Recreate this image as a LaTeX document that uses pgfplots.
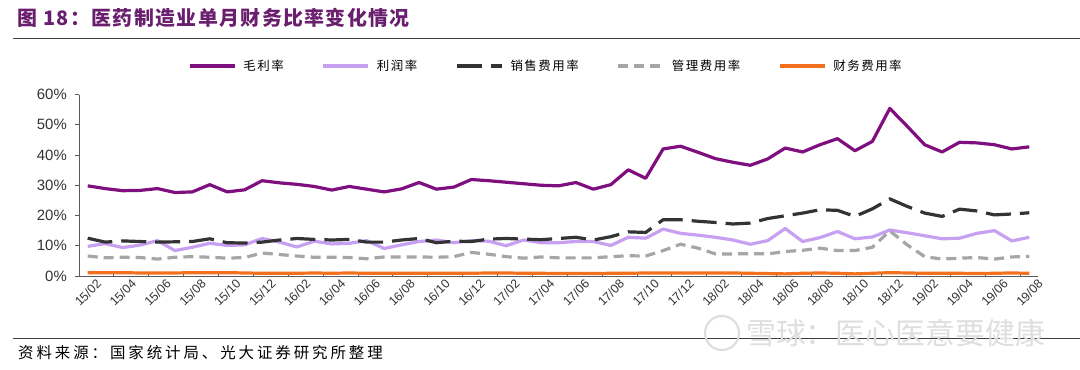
\documentclass[border=0pt]{standalone}
\usepackage{fontspec}
\setmainfont{Liberation Sans}
\newfontfamily\cjk{Noto Sans CJK SC}
\newfontfamily\cjktitle{Noto Sans CJK SC}[LetterSpace=7]
\newfontfamily\cjksrc{Noto Sans CJK SC}[LetterSpace=19]
\newfontfamily\cjkleg{Noto Sans CJK SC}[LetterSpace=12]
\usepackage{pgfplots}
\usepackage{pgfplotstable}
\pgfplotsset{compat=1.18}
\definecolor{gmc}{HTML}{7F0F7E}
\definecolor{pmc}{HTML}{C7A0F2}
\definecolor{sec}{HTML}{333333}
\definecolor{adc}{HTML}{A6A6A6}
\definecolor{fic}{HTML}{F2701E}
\definecolor{titlec}{HTML}{6A1F6E}
\definecolor{axc}{HTML}{595959}
\pgfplotstableread{
i gm pm se ad fi
0 29.8 9.8 12.5 6.6 1.1
1 28.9 10.7 11.2 6.0 1.1
2 28.2 9.4 11.6 6.2 1.1
3 28.3 10.2 11.4 6.1 1.0
4 28.9 11.7 11.2 5.6 1.0
5 27.6 8.4 11.3 6.2 1.0
6 27.8 9.5 11.4 6.4 1.1
7 30.2 10.8 12.3 6.2 1.1
8 27.8 10.1 11.0 5.9 1.1
9 28.5 10.3 10.9 6.1 1.0
10 31.5 12.4 11.2 7.6 0.9
11 30.8 11.2 11.9 7.1 0.9
12 30.3 9.6 12.4 6.6 0.9
13 29.6 11.5 12.1 6.2 1.0
14 28.4 10.6 11.9 6.2 0.9
15 29.6 10.8 12.1 6.1 1.0
16 28.7 11.7 11.2 5.7 0.9
17 27.8 9.1 11.2 6.3 0.9
18 28.8 10.3 11.9 6.3 0.9
19 30.9 11.4 12.4 6.3 0.9
20 28.7 11.9 11.0 6.2 0.9
21 29.4 11.0 11.5 6.4 0.9
22 31.9 11.7 11.4 7.8 0.9
23 31.5 11.5 12.2 7.2 1.0
24 31.0 10.0 12.4 6.4 1.0
25 30.5 11.9 12.2 5.9 0.9
26 30.0 11.0 12.0 6.3 0.9
27 29.8 11.0 12.4 6.0 0.8
28 30.9 11.4 12.8 6.0 0.8
29 28.7 11.4 11.9 6.0 0.8
30 30.2 10.1 13.0 6.4 0.9
31 35.1 12.8 14.6 6.7 0.9
32 32.3 12.5 14.4 6.6 1.0
33 42.0 15.5 18.6 8.4 1.0
34 42.9 14.1 18.6 10.5 1.0
35 40.9 13.5 18.1 9.2 1.0
36 38.8 12.8 17.7 7.3 1.0
37 37.6 11.9 17.2 7.3 1.0
38 36.6 10.5 17.5 7.4 0.9
39 38.7 11.7 19.0 7.3 0.8
40 42.3 15.7 19.9 8.1 0.7
41 41.0 11.4 20.8 8.5 0.9
42 43.4 12.7 21.9 9.2 1.0
43 45.4 14.7 21.7 8.4 0.9
44 41.4 12.3 19.7 8.4 0.7
45 44.5 12.9 22.2 9.5 0.9
46 55.4 15.2 25.5 14.9 1.1
47 49.5 14.3 23.0 10.3 1.0
48 43.4 13.3 20.8 6.4 0.9
49 41.0 12.3 19.7 5.6 0.9
50 44.2 12.5 22.1 5.9 0.9
51 44.0 14.1 21.5 6.1 0.8
52 43.4 15.0 20.2 5.6 0.9
53 42.0 11.6 20.5 6.3 1.0
54 42.7 12.8 20.9 6.5 0.9
}\data
\begin{document}
\begin{tikzpicture}[x=1bp,y=1bp]
\path[use as bounding box] (0,0) rectangle (1080,369);
\node[anchor=west, text=titlec, font=\cjktitle\bfseries\fontsize{20}{24}\selectfont, inner sep=0pt] at (17,351) {图 18：医药制造业单月财务比率变化情况};
\draw[line width=0.9bp, color=black!75] (13,331) -- (1080,331);
\draw[line width=0.9bp, color=black!75] (13,31) -- (1080,31);
\node[anchor=west, font=\cjksrc\fontsize{15.5}{18}\selectfont, inner sep=0pt] at (18,16) {资料来源：国家统计局、光大证券研究所整理};
\begin{axis}[
  at={(79bp,93bp)}, anchor=south west,
  scale only axis, width=959bp, height=181.5bp,
  xmin=-0.5, xmax=54.5, ymin=0, ymax=60,
  axis x line*=bottom, axis y line*=left,
  axis line style={color=axc, line width=0.9bp},
  xtick={0,2,...,54},
  xticklabels={15/02,15/04,15/06,15/08,15/10,15/12,16/02,16/04,16/06,16/08,16/10,16/12,17/02,17/04,17/06,17/08,17/10,17/12,18/02,18/04,18/06,18/08,18/10,18/12,19/02,19/04,19/06,19/08},
  xtick style={draw=none},
  minor xtick={1.5,3.5,...,53.5},
  minor x tick style={draw=axc, line width=0.8bp},
  minor tick length=4bp,
  tick align=inside,
  xticklabel style={font=\fontsize{12.5}{14}\selectfont, text=black!80, rotate=45, anchor=east, inner sep=0pt, xshift=4bp, yshift=-12bp},
  ytick={0,10,...,60},
  yticklabel={\pgfmathprintnumber{\tick}\%},
  yticklabel style={font=\fontsize{15}{17}\selectfont, text=black!80, inner sep=0pt, xshift=-12bp},
  ytick style={draw=axc, line width=0.8bp, xshift=-4bp},
  major tick length=4bp,
  /pgf/number format/assume math mode=true,
  clip=false,
  legend columns=5,
  legend style={at={(0.1137,1.157)}, anchor=west, draw=none, fill=none, inner sep=0pt,
    font=\cjkleg\fontsize{12.5}{14}\selectfont,
    /tikz/every odd column/.append style={column sep=7bp},
    /tikz/every even column/.append style={column sep=38bp},
    nodes={inner sep=0pt}},
  legend image code/.code={\draw[#1] (0bp,0bp) -- (45bp,0bp);},
  every axis plot/.append style={line width=3.2bp, line join=round},
]
\addplot[color=gmc] table[x=i,y=gm]{\data};
\addlegendentry{毛利率}
\addplot[color=pmc] table[x=i,y=pm]{\data};
\addlegendentry{利润率}
\addplot[color=sec, dash pattern=on 25bp off 9bp] table[x=i,y=se]{\data};
\addlegendentry{销售费用率}
\addplot[color=adc, dash pattern=on 10bp off 6bp] table[x=i,y=ad]{\data};
\addlegendentry{管理费用率}
\addplot[color=fic] table[x=i,y=fi]{\data};
\addlegendentry{财务费用率}
\end{axis}
\draw[color=black!13, line width=2.2bp] (722,36) circle (17);
\node[anchor=west, text=black!13, font=\cjk\fontsize{30}{32}\selectfont, inner sep=0pt] at (746,36) {雪球：医心医意要健康};
\end{tikzpicture}
\end{document}
